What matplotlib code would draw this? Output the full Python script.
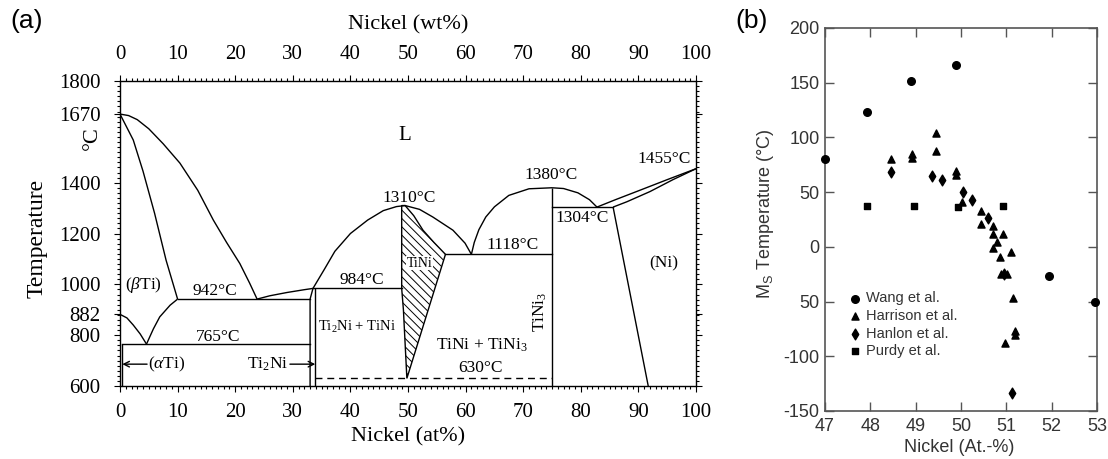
import matplotlib.pyplot as plt
import matplotlib.ticker as mticker
from matplotlib.patches import Polygon

plt.rcParams['mathtext.fontset'] = 'custom'
plt.rcParams['mathtext.rm'] = 'Liberation Serif'
plt.rcParams['mathtext.it'] = 'Liberation Serif:italic'
plt.rcParams['mathtext.sf'] = 'Liberation Sans'
plt.rcParams['hatch.linewidth'] = 0.7

SERIF = 'Liberation Serif'
SANS = 'Liberation Sans'

# ---- (a) Ti-Ni phase diagram: boundaries as (at% Ni, temperature C) ----
liquidus_ti = [(0, 1670), (1.5, 1664), (3, 1648), (5, 1612), (7.5, 1553), (10.4, 1477),
               (13.5, 1370), (16.2, 1253), (18.5, 1165), (20.8, 1082), (22.5, 1005), (23.8, 942)]
solidus_bti = [(0, 1670), (2.3, 1568), (4, 1445), (6, 1280), (8, 1095), (10, 942)]
solvus_bti = [(10, 942), (8.7, 918), (6.9, 872), (5.8, 825), (4.6, 765)]
transus_ti = [(0, 882), (1.2, 868), (2.3, 840), (3.5, 805), (4.6, 765)]
solvus_ati = [(0.4, 765), (0.4, 600)]
liquidus_eut = [(23.8, 942), (26, 955), (29, 968), (32, 979), (33.5, 984)]
liquidus_tini_l = [(33.5, 984), (35.5, 1060), (37.3, 1130), (40, 1200), (43, 1253),
                   (45.7, 1290), (48, 1306), (49.5, 1310)]
liquidus_tini_r = [(49.5, 1310), (52, 1295), (54.3, 1265), (57.8, 1213), (59.9, 1162), (61, 1118)]
liquidus_tini3_l = [(61, 1118), (61.5, 1165), (62.3, 1215), (63.5, 1265), (65, 1305),
                    (67.5, 1350), (71, 1376), (75, 1380)]
liquidus_tini3_r = [(75, 1380), (77, 1377), (79.5, 1360), (81.5, 1333), (82.8, 1304)]
liquidus_ni = [(82.8, 1304), (86, 1333), (90, 1368), (95, 1412), (100, 1455)]
solidus_ni = [(85.6, 1304), (88, 1325), (92, 1365), (96, 1412), (100, 1455)]
solvus_ni = [(85.6, 1304), (91.7, 600)]
ti2ni_left = [(33.0, 600), (33.0, 942), (33.5, 984)]
ti2ni_right = [(33.9, 600), (33.9, 984)]
tini3_line = [(75, 600), (75, 1380)]
tini_region = [(48.9, 1310), (49.5, 1310), (51, 1270), (52.6, 1213), (54.5, 1165),
               (56.5, 1118), (49.8, 630), (49.2, 900), (48.9, 984)]

# invariant reactions: (x start, x end, temperature)
isotherms = [(10, 33.0, 942), (0.4, 33.0, 765), (33.5, 48.9, 984),
             (56.5, 75, 1118), (75, 85.6, 1304)]
dashed_isotherm = (33.9, 75, 630)

x_ticks = list(range(0, 101, 10))
t_ticks = [600, 800, 882, 1000, 1200, 1400, 1670, 1800]

# ---- (b) martensite start temperature vs nickel content ----
wang_x = [47.0, 47.93, 48.9, 49.9, 51.95, 52.95]
wang_y = [80, 123, 152, 166, -27, -50]
harrison_x = [48.45, 48.92, 48.92, 49.45, 49.45, 49.9, 49.9, 50.03, 50.45, 50.45, 50.7,
              50.7, 50.93, 50.8, 50.7, 51.1, 50.85, 50.88, 51.02, 51.15, 51.2, 51.2, 50.97]
harrison_y = [80, 85, 81, 104, 88, 69, 66, 41, 33, 21, 19,
              12, 12, 4, -1, -5, -9, -25, -25, -47, -77, -81, -88]
hanlon_x = [48.45, 49.35, 49.57, 50.05, 50.25, 50.6, 50.95, 51.12]
hanlon_y = [68, 65, 61, 50, 43, 26, -25, -134]
purdy_x = [47.93, 48.97, 49.93, 50.93]
purdy_y = [37, 37, 36, 37]
ms_ticks = [-150, -100, -50, 0, 50, 100, 150, 200]
ms_ticklabels = ['-150', '-100', '50', '0', '50', '100', '150', '200']


def xs(pts):
    return [p[0] for p in pts]


def ys(pts):
    return [p[1] for p in pts]


fig = plt.figure(figsize=(11.08, 4.59), dpi=100)
axa = fig.add_axes([0.1083, 0.159, 0.5199, 0.6645])
axb = fig.add_axes([0.7446, 0.1046, 0.2455, 0.8344])

lw = 1.0
for curve in [liquidus_ti, solidus_bti, solvus_bti, transus_ti, solvus_ati, liquidus_eut,
              liquidus_tini_l, liquidus_tini_r, liquidus_tini3_l, liquidus_tini3_r,
              liquidus_ni, solidus_ni, solvus_ni, ti2ni_left, ti2ni_right, tini3_line]:
    axa.plot(xs(curve), ys(curve), color='black', lw=lw, solid_capstyle='butt')

for x0, x1, t in isotherms:
    axa.plot([x0, x1], [t, t], color='black', lw=lw)
x0, x1, t = dashed_isotherm
axa.plot([x0, x1], [t, t], color='black', lw=lw, linestyle=(0, (5, 3.5)))

axa.add_patch(Polygon(tini_region, closed=True, facecolor='white', edgecolor='black',
                      lw=lw, hatch='\\\\\\\\'))

axa.set_xlim(0, 100)
axa.set_ylim(600, 1800)
axa.set_xticks(x_ticks)
axa.set_yticks(t_ticks)
axa.xaxis.set_minor_locator(mticker.MultipleLocator(1))
axa.yaxis.set_minor_locator(mticker.MultipleLocator(20))
axa.tick_params(which='both', direction='out', top=True, right=True, labeltop=True,
                width=0.8, labelsize=15)
axa.tick_params(which='major', length=4)
axa.tick_params(which='minor', length=2.5)
axa.tick_params(axis='x', which='major', pad=8)
axa.tick_params(axis='y', which='major', pad=10)
for lab in axa.get_xticklabels() + axa.get_yticklabels():
    lab.set_fontfamily(SERIF)
for sp in axa.spines.values():
    sp.set_linewidth(1.0)

tkw = dict(family=SERIF, ha='center', va='center', color='black')
axa.text(49.5, 1587, 'L', fontsize=15, **tkw)
axa.text(50.2, 1339, '1310°C', fontsize=12.5, **tkw)
axa.text(74.8, 1430, '1380°C', fontsize=12.5, **tkw)
axa.text(94.4, 1493, '1455°C', fontsize=12.5, **tkw)
axa.text(80.2, 1261, '1304°C', fontsize=12.5, **tkw)
axa.text(68.2, 1154, '1118°C', fontsize=12.5, **tkw)
axa.text(41.9, 1017, '984°C', fontsize=12.5, **tkw)
axa.text(16.5, 973, '942°C', fontsize=12.5, **tkw)
axa.text(17.0, 792, '765°C', fontsize=12.5, **tkw)
axa.text(4.0, 997, r'($\beta$Ti)', fontsize=12.5, **tkw)
axa.text(41.2, 832, r'Ti$_2$Ni + TiNi', fontsize=10.5, **tkw)
axa.text(52.0, 1083, 'TiNi', fontsize=10, bbox=dict(facecolor='white', edgecolor='none', pad=0.3), **tkw)
axa.text(62.8, 761, r'TiNi + TiNi$_3$', fontsize=12.5, **tkw)
axa.text(62.6, 670, '630°C', fontsize=12.5, **tkw)
axa.text(72.9, 891, r'TiNi$_3$', fontsize=12.5, rotation=90, **tkw)
axa.text(94.4, 1083, '(Ni)', fontsize=12.5, **tkw)

arrow = dict(arrowstyle='->', color='black', lw=1.0, shrinkA=0, shrinkB=0)
axa.annotate('', xy=(0.4, 686), xytext=(4.7, 686), arrowprops=arrow)
axa.text(4.9, 686, r'($\alpha$Ti)', fontsize=12.5, family=SERIF, ha='left', va='center')
axa.annotate('', xy=(33.9, 686), xytext=(29.5, 686), arrowprops=arrow)
axa.text(29.2, 686, r'Ti$_2$Ni', fontsize=12.5, family=SERIF, ha='right', va='center')

fig.text(0.368, 0.9455, 'Nickel (wt%)', family=SERIF, fontsize=16, ha='center', va='center')
fig.text(0.368, 0.048, 'Nickel (at%)', family=SERIF, fontsize=16, ha='center', va='center')
fig.text(0.0338, 0.4815, 'Temperature', family=SERIF, fontsize=17, rotation=90,
         ha='center', va='center')
fig.text(0.083, 0.699, '°C', family=SERIF, fontsize=16, rotation=90, ha='center', va='center')
fig.text(0.0244, 0.954, '(a)', family=SANS, fontsize=19, ha='center', va='center')
fig.text(0.678, 0.954, '(b)', family=SANS, fontsize=19, ha='center', va='center')

# ---- panel (b) ----
mk = dict(color='black', clip_on=False, zorder=3)
axb.scatter(wang_x, wang_y, marker='o', s=30, label='Wang et al.', **mk)
axb.scatter(harrison_x, harrison_y, marker='^', s=26, label='Harrison et al.', **mk)
axb.scatter(hanlon_x, hanlon_y, marker='d', s=30, label='Hanlon et al.', **mk)
axb.scatter(purdy_x, purdy_y, marker='s', s=24, label='Purdy et al.', **mk)

axb.set_xlim(47, 53)
axb.set_ylim(-150, 200)
axb.set_xticks(range(47, 54))
axb.set_yticks(ms_ticks)
axb.set_yticklabels(ms_ticklabels)
axb.tick_params(direction='in', top=True, right=True, length=6.5, width=1.0,
                color='#555555', labelcolor='#333333', labelsize=13)
axb.tick_params(axis='x', pad=5)
axb.tick_params(axis='y', pad=4)
for lab in axb.get_xticklabels() + axb.get_yticklabels():
    lab.set_fontfamily(SANS)
for sp in axb.spines.values():
    sp.set_color('#555555')
    sp.set_linewidth(1.2)

leg = axb.legend(loc='center left', bbox_to_anchor=(0.088, 0.225), frameon=False,
                 borderpad=0, borderaxespad=0, handlelength=0.8, handletextpad=0.4,
                 labelspacing=0.25, prop={'family': SANS, 'size': 10.5})
for txt in leg.get_texts():
    txt.set_color('#333333')

fig.text(0.691, 0.533, r'$\mathsf{M_S}$ Temperature (°C)', family=SANS, fontsize=13,
         color='#333333', rotation=90, ha='center', va='center')
fig.text(0.866, 0.024, 'Nickel (At.-%)', family=SANS, fontsize=13, color='#333333',
         ha='center', va='center')

fig.savefig('out.png', dpi=100)
